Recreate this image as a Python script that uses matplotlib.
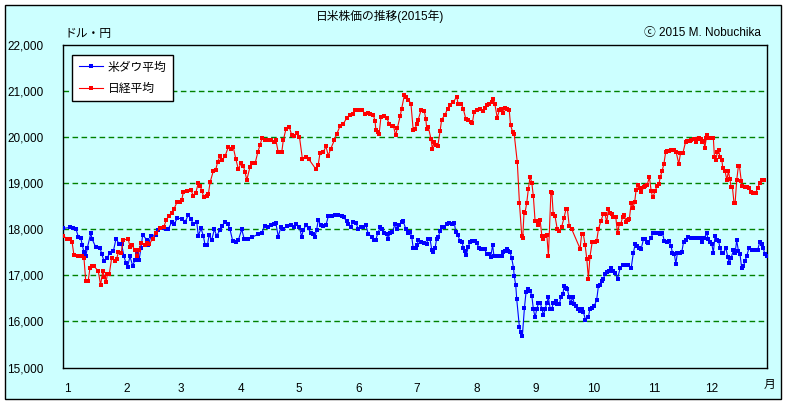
import matplotlib
matplotlib.use('Agg')
import matplotlib.pyplot as plt
from matplotlib.patches import Rectangle

plt.rcParams['font.family'] = ['Liberation Sans', 'Noto Sans CJK JP', 'DejaVu Sans']

# ---- data (x = days from 1 Jan 2015) ----
dow_day = [-1.9, 1.6, 2.9, 4.7, 5.9, 7.1, 7.9, 8.8, 9.7, 10.5, 12.3, 13.1, 14.8, 17.1, 18.0, 19.2, 20.6, 22.3,
           24.0, 25.4, 27.1, 28.3, 29.5, 30.6, 31.4, 32.6, 34.0, 35.2, 36.4, 37.3, 38.3, 39.2, 41.3, 42.1,
           43.5, 45.9, 47.3, 49.0, 51.3, 52.5, 54.2, 55.6, 57.1, 59.4, 61.1, 62.8, 64.2, 65.4, 67.2, 68.0,
           69.4, 70.6, 71.5, 72.7, 73.6, 74.9, 76.3, 77.5, 79.2, 80.1, 81.8, 83.2, 84.4, 85.8, 87.4, 88.7,
           90.5, 91.8, 93.9, 96.0, 98.8, 100.8, 102.5, 104.2, 105.6, 107.0, 108.2, 109.4, 110.7, 112.0,
           113.7, 115.8, 117.6, 118.6, 120.4, 121.5, 122.4, 123.8, 125.1, 126.2, 127.5, 128.4, 129.3, 130.1,
           131.4, 132.7, 134.1, 135.3, 137.1, 138.8, 140.5, 142.3, 143.4, 144.8, 145.7, 146.9, 147.9, 149.7,
           150.9, 152.1, 153.4, 154.8, 156.0, 157.8, 159.0, 159.9, 160.9, 162.1, 163.0, 164.2, 165.6, 166.1,
           167.3, 168.5, 169.9, 170.8, 171.9, 173.3, 174.2, 175.4, 176.4, 177.6, 178.5, 179.3, 180.6, 181.4,
           181.9, 183.3, 185.0, 186.3, 186.8, 188.0, 188.9, 189.7, 190.6, 191.4, 192.3, 193.2, 194.0, 195.4,
           196.6, 197.8, 199.5, 200.6, 201.3, 202.3, 203.5, 204.7, 205.2, 206.1, 206.8, 207.8, 208.7, 209.9,
           211.3, 212.2, 213.4, 214.2, 215.5, 216.3, 217.3, 218.7, 219.4, 220.4, 221.1, 222.5, 223.9, 225.1,
           226.0, 226.8, 227.7, 228.5, 229.4, 230.3, 231.2, 231.6, 232.4, 232.9, 234.3, 235.0, 235.8, 236.9,
           237.7, 238.6, 239.8, 240.7, 241.5, 242.4, 243.3, 244.1, 245.0, 245.9, 246.7, 247.6, 248.5, 249.3,
           250.2, 251.1, 251.9, 253.3, 254.0, 255.0, 255.8, 256.8, 257.4, 258.4, 259.1, 260.1, 260.8, 261.9,
           262.7, 263.6, 264.8, 265.7, 266.5, 267.4, 268.5, 270.0, 270.8, 272.0, 273.0, 274.3, 275.2, 276.0,
           276.9, 277.7, 278.6, 279.5, 280.7, 281.7, 283.0, 283.8, 285.1, 286.4, 287.7, 289.0, 290.7, 292.2,
           293.3, 294.2, 295.1, 296.2, 297.3, 298.5, 299.4, 300.3, 301.1, 302.4, 303.7, 304.9, 305.9, 307.1,
           308.3, 309.3, 310.6, 311.8, 312.8, 313.5, 314.5, 315.3, 316.1, 317.5, 318.4, 319.3, 320.5, 321.8,
           323.2, 324.4, 325.7, 327.0, 328.3, 329.0, 330.1, 331.3, 332.1, 333.0, 333.9, 334.7, 335.6, 336.5,
           337.4, 338.2, 339.1, 339.9, 341.2, 342.2, 342.9, 343.9, 345.1, 346.0, 346.8, 347.7, 348.5, 349.4,
           350.3, 351.1, 352.0, 353.2, 354.6, 356.3, 357.6, 358.8, 359.7, 360.5, 361.4, 362.3]
dow_val = [18020, 18040, 18020, 18000, 17830, 17820, 17660, 17500, 17410, 17590, 17910, 17780, 17620, 17600,
           17460, 17310, 17370, 17490, 17520, 17800, 17670, 17670, 17410, 17260, 17190, 17410, 17210, 17330,
           17460, 17330, 17590, 17880, 17770, 17660, 17860, 17880, 17990, 18020, 18010, 18010, 18150, 18120,
           18240, 18230, 18150, 18310, 18220, 18110, 18150, 17860, 18020, 17860, 17660, 17650, 17880, 17760,
           18000, 17860, 17980, 18070, 18150, 18110, 18000, 17750, 17720, 17760, 18000, 17780, 17780, 17830,
           17890, 17930, 18070, 18040, 18090, 18110, 18130, 17840, 18040, 18000, 18070, 18090, 18060, 18110,
           18040, 17840, 17990, 18090, 18020, 17910, 17900, 17840, 17990, 18200, 18090, 18070, 18090, 18280,
           18290, 18310, 18310, 18290, 18260, 18170, 18120, 18040, 18150, 18130, 18000, 18060, 18040, 18090,
           17900, 17840, 17770, 17770, 17910, 18040, 18010, 17910, 17890, 17790, 17910, 17950, 18110, 18010,
           18090, 18150, 18170, 18010, 17910, 17950, 17840, 17590, 17600, 17660, 17770, 17730, 17700, 17670,
           17800, 17790, 17550, 17510, 17590, 17790, 17840, 17960, 18040, 18060, 18110, 18130, 18110, 18130,
           17950, 17880, 17750, 17720, 17590, 17530, 17440, 17620, 17730, 17750, 17750, 17700, 17590, 17570,
           17570, 17570, 17460, 17460, 17390, 17660, 17420, 17420, 17420, 17420, 17500, 17530, 17580, 17530,
           17510, 17370, 17170, 16990, 16780, 16480, 15870, 15760, 15680, 16300, 16630, 16700, 16670, 16560,
           16270, 16090, 16270, 16390, 16410, 16280, 16140, 16270, 16410, 16520, 16280, 16280, 16410, 16450,
           16380, 16380, 16540, 16590, 16770, 16720, 16700, 16520, 16410, 16520, 16380, 16340, 16270, 16230,
           16270, 16210, 16030, 16090, 16280, 16290, 16330, 16470, 16770, 16800, 16870, 16930, 17020, 17080,
           17090, 17150, 17090, 17060, 16930, 17150, 17220, 17220, 17220, 17170, 17490, 17670, 17640, 17590,
           17570, 17780, 17800, 17730, 17710, 17820, 17930, 17910, 17910, 17890, 17930, 17750, 17730, 17750,
           17640, 17490, 17460, 17250, 17490, 17490, 17510, 17730, 17760, 17830, 17820, 17820, 17820, 17820,
           17820, 17730, 17820, 17910, 17780, 17730, 17690, 17490, 17860, 17760, 17750, 17590, 17490, 17490,
           17590, 17400, 17270, 17380, 17540, 17490, 17760, 17530, 17470, 17150, 17200, 17310, 17420, 17600,
           17540, 17540, 17540, 17730, 17690, 17600, 17460, 17430]

nikkei_day = [-1.9, -0.2, 1.6, 2.6, 3.6, 5.9, 7.6, 8.8, 9.7, 11.0, 11.9, 12.8, 14.0, 16.2, 17.4, 18.5, 19.3,
              20.2, 20.9, 21.9, 23.1, 24.9, 25.7, 26.6, 28.0, 29.2, 31.7, 32.6, 33.5, 35.2, 36.4, 37.3, 38.2,
              40.4, 41.3, 42.6, 44.4, 45.9, 48.2, 50.2, 51.4, 52.6, 54.5, 55.4, 57.1, 58.5, 59.4, 60.2, 62.0,
              64.2, 65.4, 66.6, 68.0, 68.9, 69.8, 70.9, 72.3, 73.2, 74.1, 75.8, 77.0, 78.0, 79.2, 80.4, 81.8,
              83.5, 84.8, 86.1, 87.4, 88.7, 90.1, 91.3, 92.2, 93.1, 94.8, 96.0, 97.4, 98.8, 99.9, 101.1, 102.5,
              104.2, 105.6, 107.2, 108.2, 109.4, 111.2, 112.0, 113.4, 115.1, 116.4, 117.6, 119.3, 120.4, 121.9,
              123.7, 125.1, 128.8, 130.1, 131.0, 132.7, 134.1, 135.3, 136.6, 138.4, 139.7, 141.4, 143.1, 144.8,
              146.6, 147.9, 149.1, 150.9, 152.6, 154.3, 155.7, 156.9, 158.6, 159.5, 160.0, 160.9, 161.6, 162.6,
              164.3, 165.6, 166.8, 168.2, 169.0, 170.2, 171.1, 172.5, 173.3, 174.7, 175.6, 176.8, 178.1, 179.3,
              180.2, 181.1, 181.9, 183.3, 185.0, 185.8, 186.3, 187.1, 188.5, 189.2, 190.1, 190.9, 192.0, 193.2,
              194.0, 195.8, 197.1, 198.3, 200.1, 201.8, 202.6, 204.0, 205.2, 206.5, 207.8, 209.1, 209.9, 210.8,
              212.2, 213.9, 215.2, 216.5, 217.7, 218.7, 219.9, 220.8, 221.6, 222.8, 223.9, 224.6, 225.6, 226.8,
              228.0, 229.0, 229.7, 230.8, 231.6, 233.2, 234.3, 235.5, 236.0, 236.7, 237.2, 238.1, 238.9, 239.8,
              240.7, 241.5, 242.4, 243.3, 244.1, 245.0, 245.9, 246.7, 247.6, 248.5, 249.3, 250.6, 251.1, 251.8,
              252.7, 253.9, 254.9, 256.2, 257.4, 258.4, 259.1, 260.1, 261.4, 265.7, 266.5, 267.4, 268.3, 269.2,
              270.0, 270.8, 272.0, 273.4, 274.3, 275.2, 276.5, 277.7, 278.6, 279.5, 280.4, 281.2, 282.1, 283.0,
              284.2, 285.1, 286.0, 286.8, 287.7, 288.7, 289.5, 290.5, 291.2, 292.2, 293.1, 294.0, 294.7, 295.7,
              296.6, 297.4, 298.6, 299.5, 300.4, 301.6, 302.5, 303.3, 304.7, 305.6, 306.5, 307.3, 308.2, 309.1,
              310.0, 310.8, 312.0, 313.0, 314.2, 315.5, 316.8, 317.7, 318.9, 320.3, 321.2, 322.4, 323.4, 324.6,
              325.5, 326.3, 327.2, 328.1, 328.9, 329.8, 330.3, 331.1, 331.6, 332.5, 333.9, 334.7, 335.3, 336.0,
              336.8, 337.4, 338.2, 339.1, 339.6, 340.8, 341.7, 342.5, 343.3, 343.9, 344.6, 345.4, 346.0, 346.8,
              347.7, 348.2, 349.2, 349.8, 350.9, 352.1, 353.3, 354.2, 355.4, 356.6, 357.6, 358.8, 360.0, 360.9]
nikkei_val = [17860, 17800, 17800, 17730, 17440, 17430, 17420, 17370, 16880, 16880, 17170, 17200, 17200, 17090,
              16790, 17090, 16970, 16850, 17020, 17030, 17370, 17320, 17360, 17500, 17480, 17770, 17790, 17620,
              17660, 17550, 17410, 17550, 17700, 17660, 17700, 17670, 17800, 17910, 18020, 18060, 18200, 18280,
              18350, 18440, 18600, 18600, 18630, 18800, 18840, 18850, 18730, 18780, 19000, 18950, 18840, 18690,
              18730, 18760, 19020, 19270, 19290, 19460, 19580, 19510, 19580, 19780, 19750, 19780, 19530, 19310,
              19430, 19380, 19240, 19070, 19360, 19430, 19430, 19670, 19820, 19990, 19940, 19940, 19930, 19890,
              19930, 19670, 19670, 19930, 20180, 20220, 20040, 20020, 20090, 20000, 19530, 19570, 19530, 19310,
              19400, 19650, 19670, 19800, 19600, 19750, 19930, 20070, 20240, 20290, 20410, 20490, 20510, 20580,
              20580, 20600, 20510, 20530, 20510, 20490, 20350, 20150, 20110, 20060, 20440, 20450, 20420, 20290,
              20250, 20250, 20040, 20200, 20450, 20620, 20910, 20880, 20810, 20730, 20150, 20180, 20280, 20380,
              20580, 20570, 20400, 20180, 20220, 19960, 19750, 19890, 19820, 19800, 20130, 20380, 20490, 20620,
              20690, 20760, 20880, 20710, 20730, 20620, 20400, 20380, 20330, 20300, 20540, 20580, 20620, 20560,
              20640, 20690, 20730, 20760, 20830, 20710, 20420, 20590, 20620, 20520, 20640, 20620, 20590, 20260,
              20110, 20060, 19450, 18570, 17860, 17820, 18380, 18360, 18580, 18870, 19140, 19010, 18720, 18180,
              18180, 18090, 18200, 17860, 17790, 17860, 17870, 17420, 18800, 18790, 18330, 18290, 18000, 17970,
              18060, 18250, 18440, 18450, 18070, 18000, 17580, 17890, 17890, 17660, 17350, 16930, 17400, 17730,
              17730, 17750, 18000, 18180, 18330, 18340, 18150, 18440, 18360, 18340, 18270, 18260, 17910, 18110,
              18120, 18260, 18310, 18150, 18200, 18220, 18580, 18470, 18600, 18850, 18970, 18900, 18800, 18910,
              18950, 18960, 19130, 18840, 18690, 18840, 18950, 18980, 19140, 19270, 19420, 19670, 19700, 19710,
              19720, 19720, 19670, 19420, 19650, 19650, 19890, 19910, 19910, 19940, 19960, 19890, 19960, 19990,
              19960, 19890, 19910, 19770, 19990, 20040, 19990, 19990, 19990, 19560, 19510, 19670, 19720, 19560,
              19510, 19330, 19260, 19070, 19260, 19090, 18910, 18910, 18580, 18580, 19060, 19380, 19380, 19040,
              18950, 18910, 18910, 18900, 18800, 18780, 18780, 18900, 19000, 19060, 19060]

month_labels = ['1', '2', '3', '4', '5', '6', '7', '8', '9', '10', '11', '12']
month_start = [0, 31, 59, 90, 120, 151, 181, 212, 243, 273, 304, 334]
y_ticks = [15000, 16000, 17000, 18000, 19000, 20000, 21000, 22000]
grid_levels = [16000, 17000, 18000, 19000, 20000, 21000]

W, H = 787, 404
fig = plt.figure(figsize=(W / 100, H / 100), dpi=100)
fig.patch.set_facecolor('white')
fig.add_artist(Rectangle((5 / W, 5 / H), 776 / W, 394 / H, transform=fig.transFigure,
                         facecolor='#CCFFFF', edgecolor='black', lw=1.0, zorder=0))

ax = fig.add_axes([63 / W, 1 - 367.5 / H, 704 / W, 322.5 / H])
ax.set_facecolor('#CCFFFF')
for g in grid_levels:
    ax.axhline(g, color='#008000', lw=1.0, dashes=(4, 2.5), zorder=1)

ax.plot(dow_day, dow_val, color='#0000FF', lw=0.8, marker='s', ms=2.6, mew=0,
        label='米ダウ平均', zorder=3)
ax.plot(nikkei_day, nikkei_val, color='#FF0000', lw=0.8, marker='s', ms=2.6, mew=0,
        label='日経平均', zorder=3)

ax.set_xlim(-2.07, 362.5)
ax.set_ylim(15000, 22000)
ax.set_yticks(y_ticks)
ax.set_yticklabels([f'{v:,}' for v in y_ticks])
ax.set_xticks(month_start)
ax.set_xticklabels(month_labels)
ax.tick_params(axis='y', length=0, pad=14, labelsize=8.5)
ax.tick_params(axis='x', length=0, pad=11, labelsize=8.5)
for s in ax.spines.values():
    s.set_linewidth(1.0)
    s.set_color('black')

leg = ax.legend(loc='upper left', bbox_to_anchor=(0.0128, 0.969), borderaxespad=0,
                fontsize=8.5, frameon=True, fancybox=False, edgecolor='black',
                handlelength=2.1, handletextpad=0.4, labelspacing=0.8, borderpad=0.55)
leg.get_frame().set_linewidth(1.0)
leg.get_frame().set_facecolor('white')
leg.get_frame().set_alpha(1)
for h in leg.legend_handles:
    h.set_markersize(3)

fig.text(380 / W, 1 - 16 / H, '日米株価の推移(2015年)', ha='center', va='center', fontsize=8.5)
fig.text(64 / W, 1 - 34 / H, 'ドル・円', ha='left', va='center', fontsize=8.5)
fig.text(761 / W, 1 - 33 / H, 'ⓒ 2015 M. Nobuchika', ha='right', va='center', fontsize=8.5)
fig.text(770 / W, 1 - 385 / H, '月', ha='center', va='center', fontsize=8.5)

fig.savefig('out.png', dpi=100)
